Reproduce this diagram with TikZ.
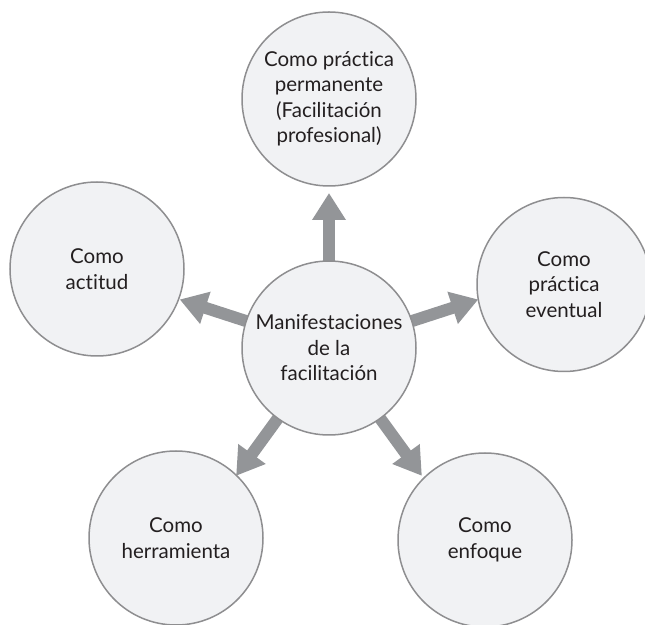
\documentclass[tikz,border=0pt]{standalone}
\usepackage{fontspec}
\setmainfont{Lato}[Ligatures=NoCommon]
\usetikzlibrary{arrows.meta,calc,backgrounds}
\definecolor{ringgray}{HTML}{8E8E90}
\definecolor{discfill}{HTML}{F1F2F4}
\definecolor{arrowgray}{HTML}{939598}
\definecolor{inkgray}{HTML}{231F20}
\begin{document}
\begin{tikzpicture}[x=1pt,y=1pt,
  disc/.style={circle,draw=ringgray,line width=1.5pt,fill=discfill,
    minimum size=174pt,inner sep=0pt,align=center,text=inkgray,
    font=\fontsize{20.5}{25.5}\selectfont},
  bigarrow/.style={draw=arrowgray,line width=12pt,
    -{Triangle[width=32pt,length=27pt]},arrowgray}]
\useasboundingbox (0,0) rectangle (645,624);
% central concept
\node[disc] (c) at (329,276) {Manifestaciones\\de la\\facilitación};
% the five manifestations
\node[disc] (top) at (329,525) {Como práctica\\permanente\\(Facilitación\\profesional)};
\node[disc] (right) at (564,339.5) {Como\\práctica\\eventual};
\node[disc] (left) at (97,355) {Como\\actitud};
\node[disc] (bl) at (176,86) {Como\\herramienta};
\node[disc] (br) at (485,84) {Como\\enfoque};
% arrow tips on a pentagon around the centre
\coordinate (tipT) at ($(c)+(90:155)$);
\coordinate (tipR) at ($(c)+(18:157)$);
\coordinate (tipL) at ($(c)+(162:157)$);
\coordinate (tipBL) at ($(c)+(234:158)$);
\coordinate (tipBR) at ($(c)+(306:158)$);
\begin{pgfonlayer}{background}
\draw[bigarrow] (c.center) -- (tipT);
\draw[bigarrow] (c.center) -- (tipR);
\draw[bigarrow] (c.center) -- (tipL);
\draw[bigarrow] (c.center) -- (tipBL);
\draw[bigarrow] (c.center) -- (tipBR);
\end{pgfonlayer}
\end{tikzpicture}
\end{document}
